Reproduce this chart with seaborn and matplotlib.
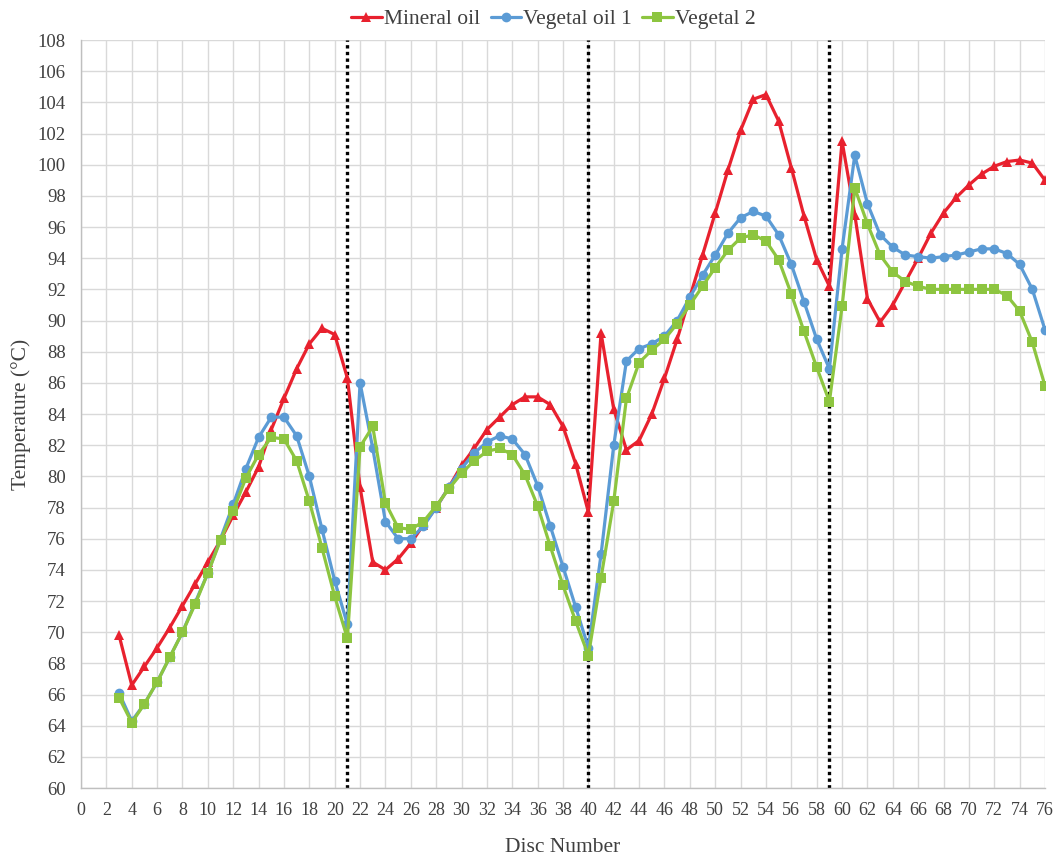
import numpy as np
import pandas as pd
import matplotlib
matplotlib.use("Agg")
import matplotlib.pyplot as plt
import seaborn as sns

disc = list(range(3, 77))

mineral_oil = [69.8, 66.6, 67.8, 69.0, 70.3, 71.7, 73.1, 74.5, 75.9, 77.5,
               79.0, 80.6, 83.0, 85.0, 86.9, 88.5, 89.5, 89.1, 86.3, 79.3,
               74.5, 74.0, 74.7, 75.7, 76.9, 78.0, 79.3, 80.7, 81.8, 83.0,
               83.8, 84.6, 85.1, 85.1, 84.6, 83.2, 80.8, 77.7, 89.2, 84.3,
               81.7, 82.3, 84.0, 86.3, 88.8, 91.5, 94.2, 96.9, 99.65, 102.2,
               104.2, 104.5, 102.8, 99.8, 96.7, 93.9, 92.2, 101.5, 96.8, 91.4,
               89.9, 91.0, 92.5, 94.0, 95.6, 96.9, 97.9, 98.7, 99.4, 99.9,
               100.2, 100.3, 100.1, 99.0]

vegetal_oil_1 = [66.1, 64.3, 65.4, 66.8, 68.4, 70.0, 71.9, 73.8, 76.0, 78.2,
                 80.5, 82.5, 83.8, 83.8, 82.6, 80.0, 76.6, 73.3, 70.5, 86.0,
                 81.8, 77.1, 76.0, 76.0, 76.8, 78.0, 79.3, 80.5, 81.5, 82.2,
                 82.6, 82.4, 81.4, 79.4, 76.8, 74.2, 71.6, 69.0, 75.0, 82.0,
                 87.4, 88.2, 88.5, 89.0, 90.0, 91.5, 92.9, 94.2, 95.6, 96.6,
                 97.0, 96.7, 95.5, 93.6, 91.2, 88.8, 86.9, 94.6, 100.6, 97.5,
                 95.5, 94.7, 94.2, 94.1, 94.0, 94.1, 94.2, 94.4, 94.6, 94.6,
                 94.3, 93.6, 92.0, 89.4]

vegetal_2 = [65.8, 64.2, 65.4, 66.8, 68.4, 70.0, 71.8, 73.8, 75.9, 77.8,
             79.9, 81.4, 82.5, 82.4, 81.0, 78.4, 75.4, 72.3, 69.6, 81.9,
             83.2, 78.3, 76.7, 76.6, 77.1, 78.1, 79.2, 80.2, 81.0, 81.6,
             81.8, 81.4, 80.1, 78.1, 75.5, 73.0, 70.7, 68.5, 73.5, 78.4,
             85.0, 87.3, 88.1, 88.8, 89.8, 91.0, 92.2, 93.4, 94.5, 95.3,
             95.5, 95.1, 93.9, 91.7, 89.3, 87.0, 84.8, 90.9, 98.5, 96.2,
             94.2, 93.1, 92.5, 92.2, 92.0, 92.0, 92.0, 92.0, 92.0, 92.0,
             91.6, 90.6, 88.6, 85.8]

series_names = ["Mineral oil", "Vegetal oil 1", "Vegetal 2"]
separators = [21, 40, 59]
x_ticks = list(range(0, 77, 2))
y_ticks = list(range(60, 109, 2))

colors = ["#E8212E", "#5B9BD5", "#8DC540"]
markers = ["^", "o", "s"]

sns.set_theme(style="white")
plt.rcParams["font.family"] = ["Liberation Serif", "DejaVu Serif"]

fig = plt.figure(figsize=(10.59, 8.57), dpi=100)
ax = fig.add_axes([0.0765, 0.0805, 0.9103, 0.8728])

for sx in separators:
    ax.axvline(sx, color="black", linestyle=(0, (1, 1)), linewidth=2.4, zorder=1)

frames = []
for name, vals in zip(series_names, [mineral_oil, vegetal_oil_1, vegetal_2]):
    frames.append(pd.DataFrame({"Disc": disc, "Temp": vals, "Series": name}))
df = pd.concat(frames, ignore_index=True)

sns.lineplot(data=df, x="Disc", y="Temp", hue="Series", style="Series",
             hue_order=series_names, style_order=series_names,
             palette=colors, markers=markers, dashes=False,
             markersize=7, linewidth=2.3, markeredgewidth=0,
             ax=ax, zorder=3, legend=True)

ax.set_xlim(0, 76)
ax.set_ylim(60, 108)
ax.set_xticks(x_ticks)
ax.set_yticks(y_ticks)
ax.grid(True, color="#d9d9d9", linewidth=1.0)
ax.set_axisbelow(True)
for s in ["top", "right"]:
    ax.spines[s].set_visible(False)
for s in ["left", "bottom"]:
    ax.spines[s].set_color("#bfbfbf")
    ax.spines[s].set_linewidth(1.0)
ax.tick_params(axis="both", length=0, labelsize=13.5, colors="#404040")
ax.tick_params(axis="x", pad=10, labelsize=13)
ax.tick_params(axis="y", pad=11)

ax.set_xlabel("Disc Number", fontsize=15.5, color="#404040", labelpad=14)
ax.set_ylabel("Temperature (°C)", fontsize=15.5, color="#404040", labelpad=5)

handles, labels = ax.get_legend_handles_labels()
ax.legend(handles, labels, loc="lower center", bbox_to_anchor=(0.49, 1.003),
          ncol=3, frameon=False, fontsize=15.5, handlelength=1.4,
          handletextpad=0.1, columnspacing=0.5, labelcolor="#404040",
          borderaxespad=0.0)

fig.savefig("out.png", dpi=100)
